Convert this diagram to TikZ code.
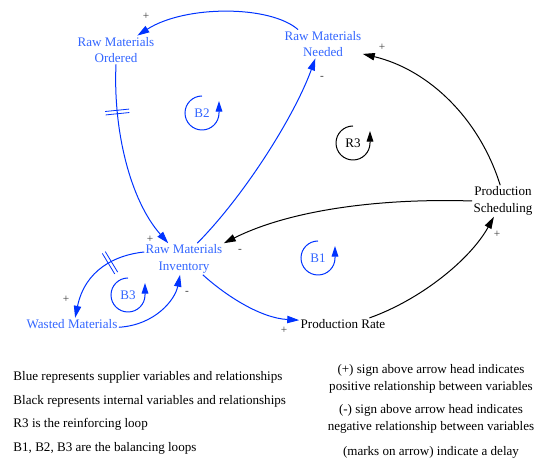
\documentclass[tikz,border=0pt]{standalone}
\usepackage{fontspec}
\setmainfont{Liberation Serif}
\usetikzlibrary{arrows.meta,decorations.markings}

\definecolor{supblue}{RGB}{0,51,255}
\definecolor{suptext}{RGB}{51,102,255}
\definecolor{signgray}{RGB}{60,60,60}

\tikzset{every picture/.style={line width=0.75pt}}
\tikzset{
  var/.style={inner sep=0.75pt, align=center, font=\fontsize{9.8}{12.5}\selectfont},
  supvar/.style={var, text=suptext},
  sign/.style={inner sep=0pt, text=signgray, font=\fontsize{8.5}{9}\selectfont},
  link/.style={-{Triangle[length=9pt,width=5.5pt]}},
  suplink/.style={link, color=supblue},
  delayat/.style={postaction={decorate}, decoration={markings, mark=at position #1 with {\draw[-, line width=0.6pt] (-1.3pt,-9pt) -- (-1.3pt,9pt) (1.3pt,-9pt) -- (1.3pt,9pt);}}},
  looplabel/.style={inner sep=0pt, font=\fontsize{9.8}{11}\selectfont},
  looparrow/.style={-{Triangle[length=8pt,width=5pt]}},
  legend/.style={inner sep=0.75pt, align=center, font=\fontsize{9.8}{12.5}\selectfont}
}

\begin{document}
\begin{tikzpicture}[x=0.75pt,y=0.75pt,yscale=-1,xscale=1]
\useasboundingbox (0,0) rectangle (536,459);

% Text Node
\draw (116,50) node [supvar] (ordered) {Raw Materials\\Ordered};
% Text Node
\draw (323,44) node [supvar] (needed) {Raw Materials\\Needed};
% Text Node
\draw (503,201) node [var] (sched) {Production\\Scheduling};
% Text Node
\draw (184,259) node [supvar] (inv) {Raw Materials\\Inventory};
% Text Node
\draw (72,324) node [supvar] (wasted) {Wasted Materials};
% Text Node
\draw (343,324) node [var] (rate) {Production Rate};

%Curve Lines
\draw [suplink] (needed.150) .. controls (270,5) and (185,5) .. (ordered.34);
\draw [suplink, delayat=0.25] (ordered.south) .. controls (113,130) and (130,200) .. (inv.135);
\draw [suplink] (inv.50) .. controls (245,195) and (295,115) .. (needed.242);
\draw [link] (sched.100) .. controls (480,120) and (430,70) .. (needed.346);
\draw [link] (sched.west) .. controls (380,198) and (290,210) .. (inv.north east);
\draw [suplink] (inv.320) .. controls (225,295) and (260,318) .. (rate.175);
\draw [link] (rate.13) .. controls (420,300) and (470,260) .. (sched.240);
\draw [suplink, delayat=0.35] (inv.170) .. controls (115,255) and (85,270) .. (wasted.63);
\draw [suplink] (wasted.356) .. controls (155,325) and (175,300) .. (inv.256);

% Signs
\draw (146,16) node [sign] (s1) {+};
\draw (150,239) node [sign] (s2) {+};
\draw (322,78) node [sign] (s3) {-};
\draw (382,47) node [sign] (s4) {+};
\draw (240,251) node [sign] (s5) {-};
\draw (284,330) node [sign] (s6) {+};
\draw (497,234) node [sign] (s7) {+};
\draw (66,299) node [sign] (s8) {+};
\draw (187,293) node [sign] (s9) {-};

% Loops
\draw (202,113) node [looplabel, text=suptext] (b2) {B2};
\draw [supblue, looparrow] (b2) ++(0,-17) arc [start angle=-90, end angle=-360, radius=17] -- ++(0,-12);
\draw (353,143) node [looplabel] (r3) {R3};
\draw [looparrow] (r3) ++(0,-17) arc [start angle=-90, end angle=-360, radius=17] -- ++(0,-12);
\draw (318,258) node [looplabel, text=suptext] (b1) {B1};
\draw [supblue, looparrow] (b1) ++(0,-17) arc [start angle=-90, end angle=-360, radius=17] -- ++(0,-12);
\draw (128,295) node [looplabel, text=suptext] (b3) {B3};
\draw [supblue, looparrow] (b3) ++(0,-17) arc [start angle=-90, end angle=-360, radius=17] -- ++(0,-12);

% Legend
\draw (12,377) node [legend, anchor=west] (leg1) {Blue represents supplier variables and relationships};
\draw (12,401) node [legend, anchor=west] (leg2) {Black represents internal variables and relationships};
\draw (12,424) node [legend, anchor=west] (leg3) {R3 is the reinforcing loop};
\draw (12,448) node [legend, anchor=west] (leg4) {B1, B2, B3 are the balancing loops};
\draw (431,379) node [legend] (leg5) {(+) sign above arrow head indicates\\positive relationship between variables};
\draw (431,419) node [legend] (leg6) {(-) sign above arrow head indicates\\negative relationship between variables};
\draw (431,452) node [legend] (leg7) {(marks on arrow) indicate a delay};

\end{tikzpicture}
\end{document}
